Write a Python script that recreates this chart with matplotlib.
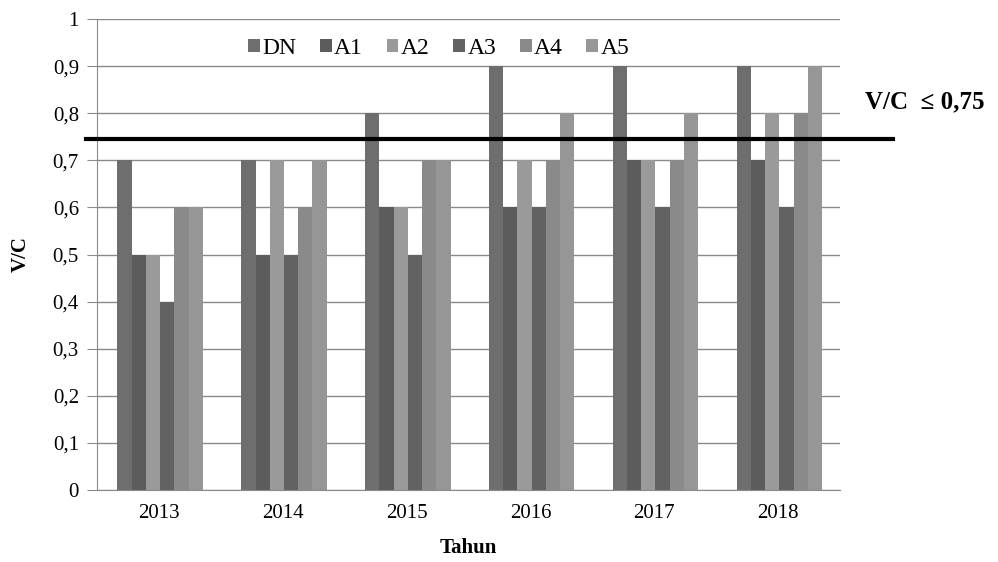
import numpy as np
import matplotlib
matplotlib.use('Agg')
import matplotlib.pyplot as plt

plt.rcParams['font.family'] = ['Liberation Serif', 'DejaVu Serif']

years = ['2013', '2014', '2015', '2016', '2017', '2018']
series = ['DN', 'A1', 'A2', 'A3', 'A4', 'A5']
DN = [0.7, 0.7, 0.8, 0.9, 0.9, 0.9]
A1 = [0.5, 0.5, 0.6, 0.6, 0.7, 0.7]
A2 = [0.5, 0.7, 0.6, 0.7, 0.7, 0.8]
A3 = [0.4, 0.5, 0.5, 0.6, 0.6, 0.6]
A4 = [0.6, 0.6, 0.7, 0.7, 0.7, 0.8]
A5 = [0.6, 0.7, 0.7, 0.8, 0.8, 0.9]
limit = 0.745
colors = ['#6e6e6e', '#5c5c5c', '#9a9a9a', '#626262', '#8a8a8a', '#969696']

fig = plt.figure(figsize=(9.98, 5.62), dpi=100)
ax = fig.add_axes([97/998, 1-490/562, 743/998, 471/562])

x = np.arange(len(years))
w = 0.69/6
for i, vals in enumerate([DN, A1, A2, A3, A4, A5]):
    ax.bar(x + (i-2.5)*w + 0.01, vals, w, color=colors[i], label=series[i], zorder=2)

ax.set_xlim(-0.5, 5.5)
ax.set_ylim(0, 1)
ax.set_yticks(np.arange(0, 1.01, 0.1))
ax.set_yticklabels(['0', '0,1', '0,2', '0,3', '0,4', '0,5', '0,6', '0,7', '0,8', '0,9', '1'])
ax.set_xticks(x)
ax.set_xticklabels(years)
ax.yaxis.grid(True, color='#8a8a8a', lw=1, zorder=0)
for s in ['top', 'right']:
    ax.spines[s].set_visible(False)
ax.spines['left'].set_color('#8a8a8a')
ax.spines['bottom'].set_color('#8a8a8a')
ax.tick_params(axis='y', length=7, color='#8a8a8a', labelsize=15, pad=6)
ax.tick_params(axis='x', length=0, labelsize=15, pad=10)
ax.set_ylabel('V/C', fontsize=15, fontweight='bold', labelpad=16)
ax.set_xlabel('Tahun', fontsize=15, fontweight='bold', labelpad=11)

# batas V/C
ax.plot([-0.59, 5.93], [limit, limit], color='black', lw=3, clip_on=False, zorder=5)
ax.text(5.70, 0.825, 'V/C  \u2264 0,75', fontsize=18, fontweight='bold',
        ha='left', va='center', clip_on=False, family=['Liberation Serif', 'DejaVu Serif'])

ax.legend(ncol=6, loc='upper center', bbox_to_anchor=(0.46, 1.005), frameon=False,
          fontsize=17, handlelength=0.5, handleheight=0.5, handletextpad=0.1,
          columnspacing=1.0)

fig.savefig('out.png', dpi=100)
